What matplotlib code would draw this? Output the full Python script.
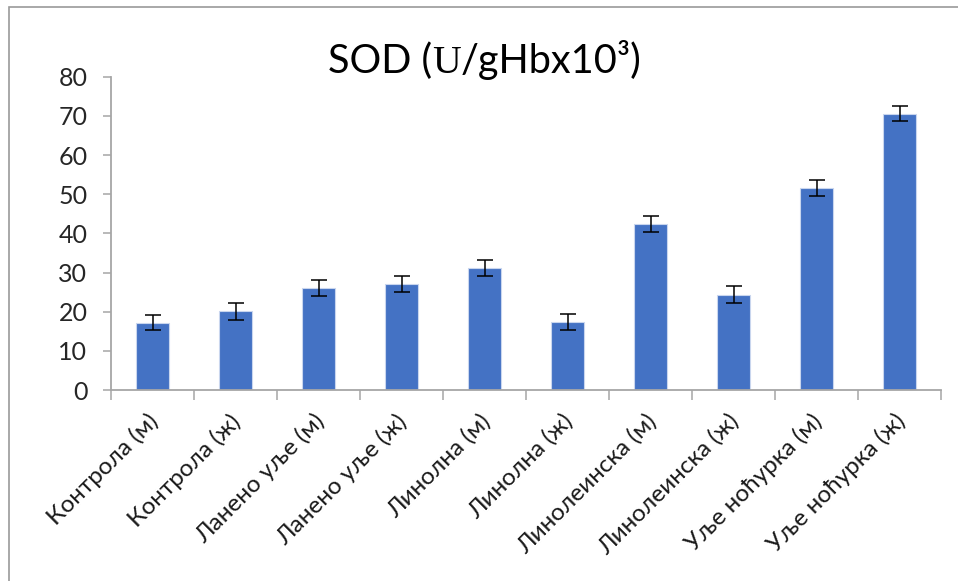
import matplotlib
matplotlib.use("Agg")
import matplotlib.pyplot as plt
from matplotlib.patches import Rectangle
from matplotlib.transforms import ScaledTranslation
import numpy as np

categories = [
    "Контрола (м)", "Контрола (ж)", "Ланено уље (м)", "Ланено уље (ж)",
    "Линолна (м)", "Линолна (ж)", "Линолеинска (м)", "Линолеинска (ж)",
    "Уље ноћурка (м)", "Уље ноћурка (ж)",
]
sod_values = [17.2, 20.1, 26.0, 27.0, 31.2, 17.4, 42.4, 24.3, 51.6, 70.6]
sod_errors = [1.9, 2.1, 2.1, 2.0, 2.0, 2.0, 2.0, 2.2, 2.0, 2.0]
y_ticks = [0, 10, 20, 30, 40, 50, 60, 70, 80]

FONT = ["Lato", "DejaVu Sans"]
plt.rcParams["font.family"] = FONT

W, H = 958, 581
fig = plt.figure(figsize=(W / 100, H / 100), dpi=100)
fig.patch.set_facecolor("white")

# chart frame (only the top and left edges fall inside the image)
fig.patches.append(Rectangle((8.5 / W, -0.05), 1.2, 1 - 7.5 / H + 0.05,
                             transform=fig.transFigure, fill=False,
                             edgecolor="#9a9a9a", linewidth=1.2))

ax = fig.add_axes([111 / W, 1 - 390 / H, 830 / W, (390 - 76.7) / H])
x = np.arange(len(categories))
ax.bar(x, sod_values, width=0.4, color="#4472C4", edgecolor="#c9d6ee",
       linewidth=0.8, zorder=2)
ax.errorbar(x, sod_values, yerr=sod_errors, fmt="none", ecolor="black",
            elinewidth=1.1, capsize=6, capthick=1.1, zorder=3)

ax.set_xlim(-0.5, len(categories) - 0.5)
ax.set_ylim(0, 80)
ax.set_yticks(y_ticks)
ax.set_yticklabels([str(v) for v in y_ticks])

axis_gray = "#a6a6a6"
for s in ("top", "right"):
    ax.spines[s].set_visible(False)
for s in ("left", "bottom"):
    ax.spines[s].set_color(axis_gray)
    ax.spines[s].set_linewidth(1.3)

ax.tick_params(axis="y", direction="out", length=6, width=1.1, color=axis_gray,
               labelsize=18, labelcolor="#262626", pad=11)
ax.set_xticks(x)
ax.set_xticks(np.arange(-0.5, len(categories)), minor=True)
ax.tick_params(axis="x", which="major", length=0, pad=20)
ax.tick_params(axis="x", which="minor", direction="out", length=7, width=1.1,
               color=axis_gray)
ax.set_xticklabels(categories, rotation=45, ha="right", va="center",
                   rotation_mode="anchor", fontsize=17.5, color="#1a1a1a")
shift = ScaledTranslation(2 / 100, 0, fig.dpi_scale_trans)
for lab in ax.get_xticklabels():
    lab.set_transform(lab.get_transform() + shift)

# title built from pieces so the "U" can be set in a serif face
pieces = [("SOD (", FONT), ("U", ["Liberation Serif"]), ("/gHbx10³)", FONT)]
title_size = 28.5
baseline_y = 1 - 73 / H
center_x = 485 / W
texts = [fig.text(0, baseline_y, s, family=f, fontsize=title_size,
                  va="baseline", ha="left", color="black") for s, f in pieces]
fig.canvas.draw()
r = fig.canvas.get_renderer()
widths = [t.get_window_extent(r).width for t in texts]
total = sum(widths)
left = center_x * W - total / 2
for t, w in zip(texts, widths):
    t.set_x(left / W)
    left += w

fig.savefig("out.png", dpi=100, facecolor="white")
